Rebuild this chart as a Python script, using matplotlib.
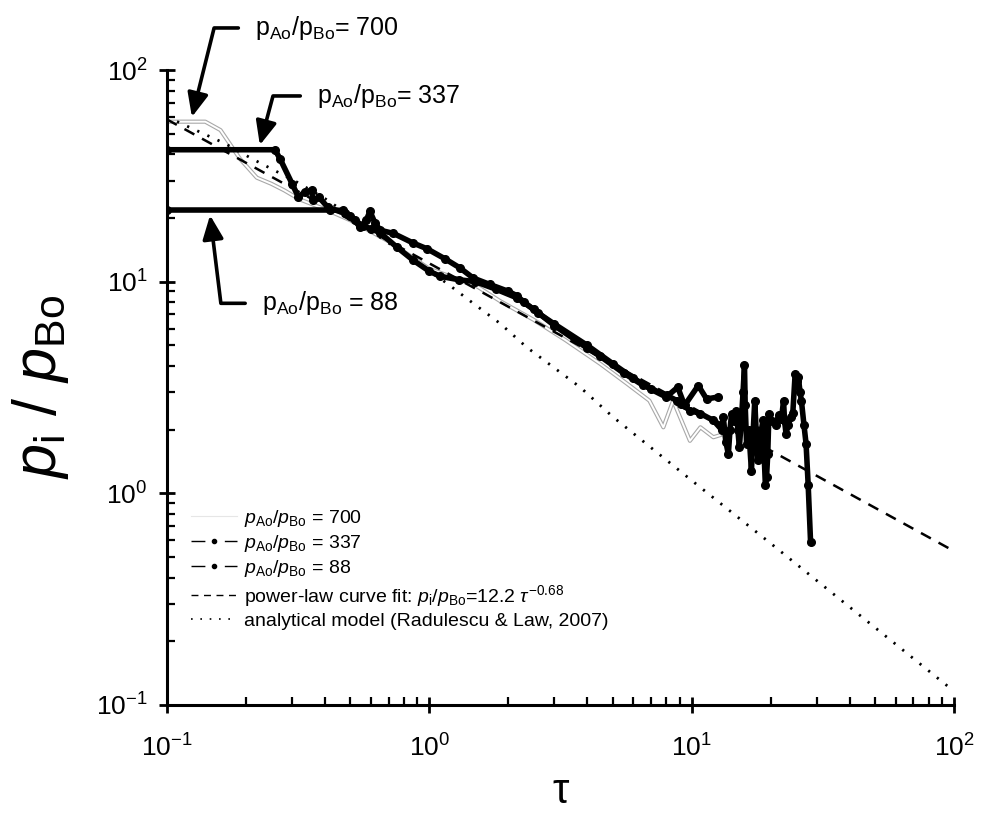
import matplotlib
matplotlib.use("Agg")
import matplotlib.pyplot as plt
from matplotlib.lines import Line2D

plt.rcParams['font.family'] = ['Liberation Sans', 'DejaVu Sans']
plt.rcParams['mathtext.fontset'] = 'custom'
plt.rcParams['mathtext.rm'] = 'Liberation Sans'
plt.rcParams['mathtext.it'] = 'Liberation Sans:italic'
plt.rcParams['mathtext.bf'] = 'Liberation Sans:bold'

# ---- data ----
tau_700 = [0.1, 0.14, 0.16, 0.19, 0.22, 0.25, 0.28, 0.32, 0.4, 0.5, 0.7, 1.0, 1.5,
           1.86, 2.5, 3.3, 4.47, 5.66, 6.9, 7.8, 8.5, 9.85, 10.8, 12.1, 12.8]
p_700 = [57, 57, 52, 38, 31, 29, 27, 24.5, 22, 19.5, 15.5, 11.5, 9.6,
         8.1, 6.6, 5.3, 4.1, 3.3, 2.74, 2.05, 2.74, 1.77, 2.05, 1.84, 1.88]

tau_337 = [0.1, 0.258, 0.27, 0.3, 0.317, 0.336, 0.356, 0.36, 0.38, 0.41, 0.477, 0.52,
           0.56, 0.6, 0.65, 0.75, 0.87, 1.0, 1.1, 1.3, 1.5, 1.8, 2.15, 2.5, 3.0, 4.0,
           4.47, 5.5, 6.5, 8.03, 8.8, 9.1, 9.85, 10.8, 12.1, 13.0, 13.2, 13.5, 13.8,
           14.0, 14.2, 14.5, 14.8, 15.0, 15.2, 15.5, 15.7, 15.9, 16.0, 16.2, 16.5,
           16.9, 17.1, 17.4, 17.6, 17.9, 18.2, 18.7, 18.9, 19.1, 19.3, 19.5, 19.7,
           20.2, 20.9, 21.5, 22.0, 22.4, 22.6, 22.9, 23.3, 23.9, 24.3, 24.8, 25.2,
           25.5, 25.9, 26.2, 26.8, 27.3, 27.8, 28.4]
p_337 = [42, 42, 38, 29, 25.1, 26.6, 27, 24.2, 25, 22.5, 21, 19.5,
         18.3, 17.8, 17.0, 14.6, 12.6, 11.2, 10.6, 10.2, 10.0, 9.2, 8.4, 7.4, 6.2, 4.85,
         4.45, 3.7, 3.25, 2.9, 2.74, 2.65, 2.46, 2.38, 2.21, 2.0, 2.29, 1.75, 1.53,
         2.0, 2.38, 2.2, 2.46, 2.0, 1.65, 2.3, 3.0, 4.02, 2.6, 1.71, 2.0,
         1.28, 1.8, 2.74, 2.0, 1.43, 1.8, 2.21, 1.5, 1.09, 1.2, 1.53, 2.38,
         2.2, 2.11, 2.35, 2.25, 2.74, 2.2, 1.91, 2.1, 2.29, 2.4, 3.67, 3.4,
         3.54, 3.0, 2.74, 2.1, 1.71, 1.1, 0.586]

tau_88 = [0.1, 0.42, 0.47, 0.5, 0.545, 0.575, 0.594, 0.62, 0.65, 0.73, 0.87, 0.98,
          1.15, 1.31, 1.47, 1.7, 2.0, 2.15, 2.3, 2.6, 3.0, 4.0, 5.0, 6.0, 7.0, 8.0,
          8.85, 9.4, 10.6, 11.4, 12.6]
p_88 = [21.8, 21.8, 21.7, 20.5, 18.1, 19.5, 21.5, 19, 17.5, 16.9, 15.2, 14.3,
        12.8, 11.6, 10.4, 9.7, 9.0, 8.6, 8.0, 7.1, 6.3, 5.0, 4.1, 3.5, 3.1, 2.85,
        3.17, 2.6, 3.23, 2.79, 2.85]

tau_fit = [0.1, 100]
p_fit = [58.4, 0.533]

tau_model = [0.1, 0.166, 0.21, 0.312, 0.4, 0.485, 0.6, 0.8, 1.17, 1.47, 1.86, 2.35,
             3.76, 5, 10, 20, 50, 100]
p_model = [60, 45, 38.2, 29.6, 24.7, 21, 17.3, 13.6, 9.8, 7.9, 6.35, 4.9,
           3.17, 2.3, 1.15, 0.58, 0.232, 0.116]

labels_leg = [r'$p_{\rm Ao}/p_{\rm Bo}$ = 700', r'$p_{\rm Ao}/p_{\rm Bo}$ = 337',
              r'$p_{\rm Ao}/p_{\rm Bo}$ = 88',
              r'power-law curve fit: $p_{\rm i}/p_{\rm Bo}$=12.2 $\tau^{-0.68}$',
              'analytical model (Radulescu & Law, 2007)']

fig = plt.figure(figsize=(9.82, 8.14), dpi=100)
ax = fig.add_axes([0.170, 0.134, 0.8015, 0.780])

# 700: thin hollow grey line
ax.plot(tau_700, p_700, color='#a8a8a8', lw=3.0, zorder=2, solid_joinstyle='round')
ax.plot(tau_700, p_700, color='white', lw=1.4, zorder=2.1, solid_joinstyle='round')
ax.plot(tau_fit, p_fit, color='black', lw=1.8, ls=(0, (4.5, 3.5)), zorder=3)
ax.plot(tau_model, p_model, color='black', lw=2.0, ls=(0, (0.8, 3.2)), zorder=3)
ax.plot(tau_88, p_88, color='black', lw=4.0, marker='o', ms=5.5, zorder=4,
        solid_joinstyle='round')
ax.plot(tau_337, p_337, color='black', lw=4.0, marker='o', ms=5.5, zorder=4,
        solid_joinstyle='round')

ax.set_xscale('log')
ax.set_yscale('log')
ax.set_xlim(0.1, 100)
ax.set_ylim(0.1, 100)
for s in ['top', 'right']:
    ax.spines[s].set_visible(False)
for s in ['left', 'bottom']:
    ax.spines[s].set_linewidth(2.2)
ax.tick_params(which='major', direction='inout', length=12, width=2, labelsize=19)
ax.tick_params(which='minor', direction='in', length=6, width=1.6)
ax.tick_params(axis='x', which='major', pad=15)
ax.tick_params(axis='y', which='major', pad=8)

ax.set_xlabel('τ', fontsize=30, labelpad=8)
ax.set_ylabel(r'$p_{\rm i}$ / $p_{\rm Bo}$', fontsize=44, labelpad=18)

handles = [
    Line2D([], [], color='#e6e6e6', lw=0.8),
    Line2D([], [], color='black', lw=1.0, ls=(0, (10, 14)), marker='o', ms=3),
    Line2D([], [], color='black', lw=1.0, ls=(0, (10, 14)), marker='o', ms=3),
    Line2D([], [], color='black', lw=1.0, ls=(0, (5, 4))),
    Line2D([], [], color='black', lw=1.2, ls=(0, (1, 4.6))),
]
ax.legend(handles, labels_leg, loc='upper left', bbox_to_anchor=(0.03, 0.31),
          frameon=False, fontsize=14, handlelength=2.4, numpoints=1,
          labelspacing=0.2, handletextpad=0.35, borderaxespad=0.0, borderpad=0.0)

ann_font = 18
arrow_kw = dict(arrowstyle='-|>,head_length=0.8,head_width=0.35', color='black',
                lw=2.6, shrinkA=10, shrinkB=0, relpos=(0, 0.5))
ax.annotate(r'$\mathrm{p_{Ao}/p_{Bo}}$= 700', xy=(0.1245, 60), xytext=(0.2166, 158),
            fontsize=ann_font, va='center', ha='left', annotation_clip=False,
            arrowprops=dict(connectionstyle='angle,angleA=0,angleB=76,rad=0', **arrow_kw))
ax.annotate(r'$\mathrm{p_{Ao}/p_{Bo}}$= 337', xy=(0.226, 44.2), xytext=(0.373, 75.4),
            fontsize=ann_font, va='center', ha='left', annotation_clip=False,
            arrowprops=dict(connectionstyle='angle,angleA=0,angleB=75,rad=0', **arrow_kw))
ax.annotate(r'$\mathrm{p_{Ao}/p_{Bo}}$ = 88', xy=(0.146, 20.6), xytext=(0.23, 7.9),
            fontsize=ann_font, va='center', ha='left', annotation_clip=False,
            arrowprops=dict(connectionstyle='angle,angleA=0,angleB=-83,rad=0', **arrow_kw))

fig.savefig('out.png', dpi=100)
